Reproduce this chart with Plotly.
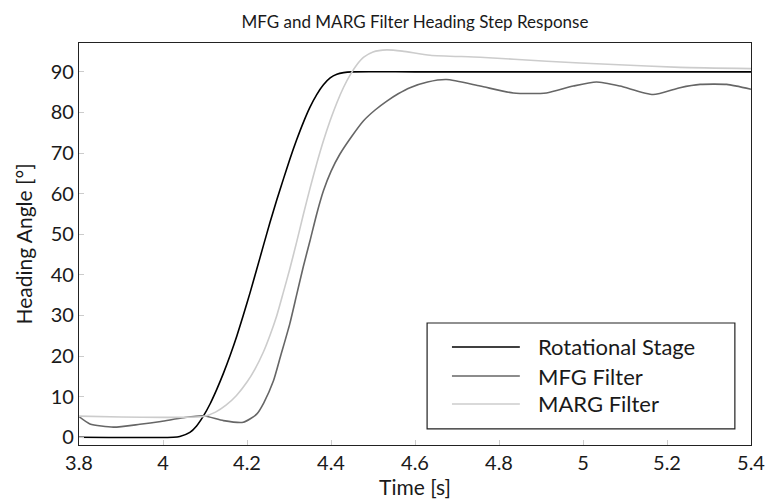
import plotly.graph_objects as go

# Rotational stage (reference) heading
stage_t = [3.8, 4.0245, 4.04, 4.064, 4.08, 4.096, 4.112, 4.128, 4.144, 4.16,
           4.176, 4.191, 4.207, 4.223, 4.239, 4.255, 4.271, 4.287, 4.302, 4.318,
           4.334, 4.35, 4.366, 4.382, 4.398, 4.414, 4.43, 4.45, 4.6, 5.0, 5.4]
stage_deg = [0, 0, 0.2, 1.2, 2.8, 5.2, 8.2, 11.8, 15.8, 20.2,
             25.0, 30.0, 35.5, 41.3, 47.2, 53.0, 58.5, 63.7, 68.5, 73.2,
             77.5, 81.3, 84.4, 86.8, 88.5, 89.4, 89.8, 90, 90, 90, 90]

# MFG filter estimate
mfg_t = [3.8, 3.826, 3.882, 3.945, 3.995, 4.048, 4.096, 4.144, 4.191, 4.223,
         4.24, 4.263, 4.28, 4.302, 4.318, 4.334, 4.35, 4.366, 4.382, 4.4,
         4.421, 4.45, 4.477, 4.505, 4.533, 4.56, 4.588, 4.63, 4.675, 4.755,
         4.834, 4.913, 4.977, 5.032, 5.088, 5.167, 5.231, 5.279, 5.342, 5.4]
mfg_deg = [5.1, 3.3, 2.5, 3.2, 3.9, 4.8, 5.3, 4.1, 3.7, 5.7,
           8.5, 13.9, 20.0, 28.0, 35.0, 42.0, 48.4, 55.0, 60.7, 65.5,
           69.7, 74.2, 77.9, 80.6, 82.8, 84.6, 86.1, 87.5, 88.1, 86.5,
           84.8, 84.8, 86.5, 87.5, 86.5, 84.4, 86.1, 86.9, 86.9, 85.7]

# MARG filter estimate
marg_t = [3.8, 3.9, 4.0, 4.096, 4.125, 4.15, 4.175, 4.2, 4.219, 4.239,
          4.255, 4.271, 4.286, 4.302, 4.318, 4.334, 4.35, 4.366, 4.382, 4.398,
          4.414, 4.43, 4.446, 4.462, 4.478, 4.5, 4.533, 4.57, 4.636, 4.755,
          4.914, 5.072, 5.231, 5.4]
marg_deg = [5.2, 5.0, 4.9, 5.1, 6.2, 7.9, 10.3, 13.6, 16.8, 21.0,
            25.2, 30.0, 35.5, 41.5, 48.0, 54.8, 61.3, 67.4, 73.0, 78.0,
            82.4, 86.2, 89.3, 91.8, 93.6, 94.9, 95.4, 95.1, 94.1, 93.6,
            92.6, 91.8, 91.1, 90.8]

series_names = ["Rotational Stage", "MFG Filter", "MARG Filter"]
series_colors = ["#000000", "#666666", "#cccccc"]

x_ticks = [3.8, 4.0, 4.2, 4.4, 4.6, 4.8, 5.0, 5.2, 5.4]
x_labels = ["3.8", "4", "4.2", "4.4", "4.6", "4.8", "5", "5.2", "5.4"]
y_ticks = [0, 10, 20, 30, 40, 50, 60, 70, 80, 90]

FONT = "Lato, sans-serif"
TEXT = "#1a1a1a"

fig = go.Figure()
for t, v, name, color in zip([stage_t, mfg_t, marg_t],
                             [stage_deg, mfg_deg, marg_deg],
                             series_names, series_colors):
    fig.add_trace(go.Scatter(x=t, y=v, mode="lines", name=name, showlegend=False,
                             line=dict(color=color, width=1.6, shape="spline", smoothing=0.6)))

# Boxed legend in the lower right corner of the axes
box = dict(x0=0.518, x1=0.976, y0=0.040, y1=0.3035)
rows_y = [0.2438, 0.1716, 0.102]
fig.add_shape(type="rect", xref="paper", yref="paper", **box,
              line=dict(color="#222222", width=1.2), fillcolor="white", layer="above")
for name, color, ry in zip(series_names, series_colors, rows_y):
    fig.add_shape(type="line", xref="paper", yref="paper", x0=0.555, x1=0.656, y0=ry, y1=ry,
                  line=dict(color=color, width=1.6), layer="above")
    fig.add_annotation(text=name, xref="paper", yref="paper", x=0.6795, y=ry,
                       xanchor="left", yanchor="middle", showarrow=False,
                       font=dict(size=22, color=TEXT))

fig.update_layout(
    width=767, height=501,
    margin=dict(l=79, r=16, t=43, b=56, autoexpand=False),
    paper_bgcolor="white", plot_bgcolor="white",
    font=dict(family=FONT, size=20, color=TEXT),
    title=dict(text="MFG and MARG Filter Heading Step Response", x=0.541, xanchor="center",
               y=0.956, yanchor="middle", font=dict(size=17, color=TEXT)),
    showlegend=False,
)
fig.update_xaxes(range=[3.8, 5.4], tickvals=x_ticks, ticktext=x_labels,
                 showgrid=False, zeroline=False, automargin=False,
                 showline=True, linecolor="#222222", linewidth=1.2, mirror=True,
                 ticks="inside", ticklen=5, tickcolor="#cccccc",
                 title=dict(text="Time [s]", standoff=1, font=dict(size=21)))
fig.update_yaxes(range=[-1.9, 97.1], tickvals=y_ticks,
                 showgrid=False, zeroline=False, automargin=False,
                 showline=True, linecolor="#222222", linewidth=1.2, mirror=True,
                 ticks="inside", ticklen=5, tickcolor="#cccccc",
                 title=dict(text="Heading Angle [°]", standoff=12, font=dict(size=21)))

fig.write_html("out.html")
